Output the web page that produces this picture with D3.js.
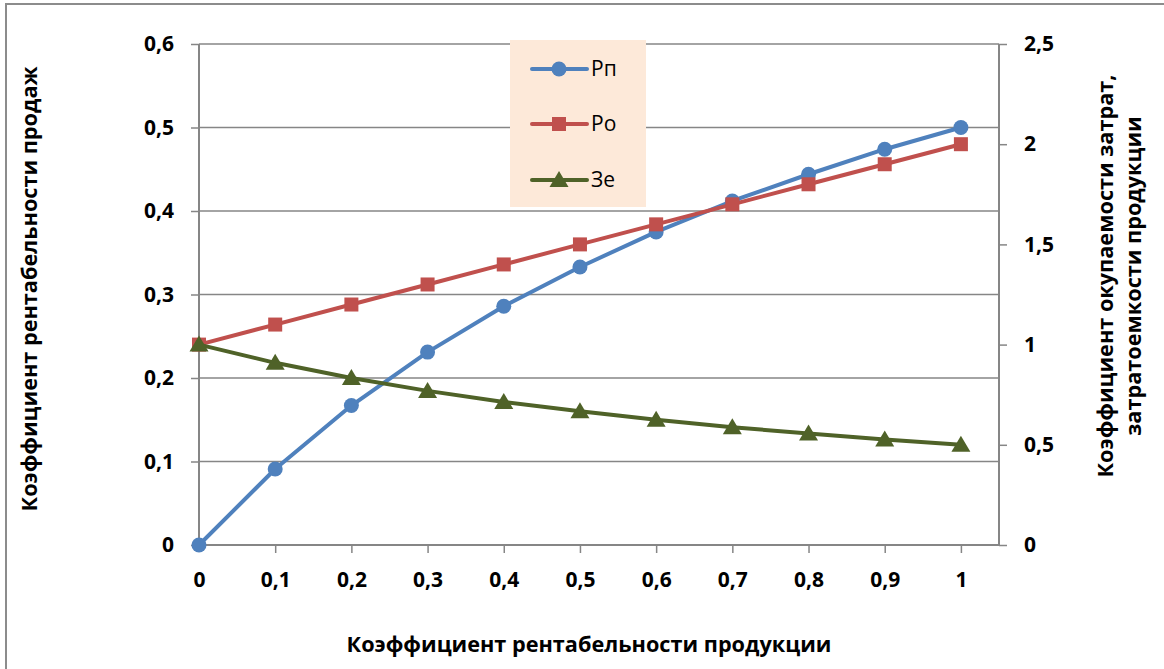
<!DOCTYPE html>
<html><head><meta charset="utf-8">
<script src="https://cdn.jsdelivr.net/npm/d3@7"></script>
<style>body{margin:0;background:#fff}svg{display:block}</style>
</head><body>
<script>
const xValues = [0,0.1,0.2,0.3,0.4,0.5,0.6,0.7,0.8,0.9,1];
const rpValues = [0,0.091,0.167,0.231,0.286,0.333,0.375,0.412,0.444,0.474,0.5];
const roValues = [1,1.1,1.2,1.3,1.4,1.5,1.6,1.7,1.8,1.9,2];
const zeValues = [1,0.909,0.833,0.769,0.714,0.667,0.625,0.588,0.556,0.526,0.5];
const leftTicks = [0,0.1,0.2,0.3,0.4,0.5,0.6];
const rightTicks = [0,0.5,1,1.5,2,2.5];
const seriesNames = ["Рп","Ро","Зе"];
const xTitle = "Коэффициент рентабельности продукции";
const yLeftTitle = "Коэффициент рентабельности продаж";
const yRightTitle = ["Коэффициент окупаемости затрат,","затратоемкости продукции"];

const W=1164,H=669;
const L=199,R=999,T=44,B=545;
const FONT="'Open Sans', sans-serif";
const fmt = d => String(d).replace(".", ",");
const svg=d3.select("body").append("svg").attr("width",W).attr("height",H);
svg.append("rect").attr("x",6).attr("y",4).attr("width",1200).attr("height",700)
  .attr("fill","#fff").attr("stroke","#8c8c8c").attr("stroke-width",2);

const x=d3.scaleLinear().domain([0,1.05]).range([L,R]);
const yL=d3.scaleLinear().domain([0,0.6]).range([B,T]);
const yR=d3.scaleLinear().domain([0,2.5]).range([B,T]);
const grey="#868686";

// gridlines
svg.append("g").selectAll("line").data(leftTicks.filter(d=>d>0)).join("line")
  .attr("x1",L).attr("x2",R).attr("y1",d=>yL(d)).attr("y2",d=>yL(d))
  .attr("stroke",grey).attr("stroke-width",1.5);

// left axis
const gL=svg.append("g").attr("transform",`translate(${L},0)`)
  .call(d3.axisLeft(yL).tickValues(leftTicks).tickFormat(fmt).tickSize(8).tickPadding(17));
// right axis
const gR=svg.append("g").attr("transform",`translate(${R},0)`)
  .call(d3.axisRight(yR).tickValues(rightTicks).tickFormat(fmt).tickSize(8).tickPadding(17));
// bottom axis
const gB=svg.append("g").attr("transform",`translate(0,${B})`)
  .call(d3.axisBottom(x).tickValues(xValues).tickFormat(fmt).tickSize(8).tickPadding(19));
gB.select(".domain").attr("d",`M${L},0H${R}`);
gB.selectAll(".tick").filter(d=>d===0).select("line").remove();
[gL,gR,gB].forEach(g=>{
  g.select(".domain").attr("stroke",grey).attr("stroke-width",2);
  g.selectAll(".tick line").attr("stroke",grey).attr("stroke-width",1.5);
  g.selectAll(".tick text").attr("font-family",FONT).attr("font-weight","bold")
   .attr("font-size",21).attr("fill","#000");
});
gL.select(".domain").attr("d",`M0,${B}V${T}`);
gR.select(".domain").attr("d",`M0,${B}V${T}`);

// series
const series=[
  {name:seriesNames[0],vals:rpValues,y:yL,color:"#4f81bd",marker:"circle"},
  {name:seriesNames[1],vals:roValues,y:yR,color:"#c0504d",marker:"square"},
  {name:seriesNames[2],vals:zeValues,y:yR,color:"#4f6228",marker:"triangle"}
];
function drawMarker(g,type,cx,cy,color){
  if(type==="circle") g.append("circle").attr("cx",cx).attr("cy",cy).attr("r",7.5).attr("fill",color);
  else if(type==="square") g.append("rect").attr("x",cx-7).attr("y",cy-7).attr("width",14).attr("height",14).attr("fill",color);
  else g.append("path").attr("d",`M${cx},${cy-9}L${cx+9.5},${cy+7}L${cx-9.5},${cy+7}Z`).attr("fill",color);
}
series.forEach(s=>{
  const g=svg.append("g");
  const line=d3.line().x((d,i)=>x(xValues[i])).y(d=>s.y(d));
  g.append("path").datum(s.vals).attr("d",line).attr("fill","none")
    .attr("stroke",s.color).attr("stroke-width",4).attr("stroke-linejoin","round");
  s.vals.forEach((v,i)=>drawMarker(g,s.marker,x(xValues[i]),s.y(v),s.color));
});

// legend
const lg=svg.append("g");
lg.append("rect").attr("x",510).attr("y",40).attr("width",136).attr("height",167).attr("fill","#fde9d9");
const legY=[69,124,180];
series.forEach((s,i)=>{
  lg.append("line").attr("x1",532).attr("x2",587).attr("y1",legY[i]).attr("y2",legY[i])
    .attr("stroke",s.color).attr("stroke-width",4).attr("stroke-linecap","round");
  drawMarker(lg,s.marker,559,legY[i],s.color);
  lg.append("text").attr("x",591).attr("y",legY[i]).attr("dy","0.35em")
    .attr("font-family",FONT).attr("font-size",21).attr("fill","#000").text(s.name);
});

// titles
const tB=svg.append("text").attr("x",589).attr("y",644).attr("dy","0.35em").attr("text-anchor","middle")
  .attr("font-family",FONT).attr("font-weight","bold").attr("font-size",20).text(xTitle);
const w=tB.node().getComputedTextLength();
const fs=20*485/w;
tB.attr("font-size",fs);
svg.append("text").attr("transform","translate(29,289) rotate(-90)").attr("dy","0.35em")
  .attr("text-anchor","middle").attr("font-family",FONT).attr("font-weight","bold")
  .attr("font-size",fs).text(yLeftTitle);
yRightTitle.forEach((t,i)=>{
  svg.append("text").attr("transform",`translate(${1105+i*28},276) rotate(-90)`).attr("dy","0.35em")
    .attr("text-anchor","middle").attr("font-family",FONT).attr("font-weight","bold")
    .attr("font-size",fs).text(t);
});
</script>
</body></html>
